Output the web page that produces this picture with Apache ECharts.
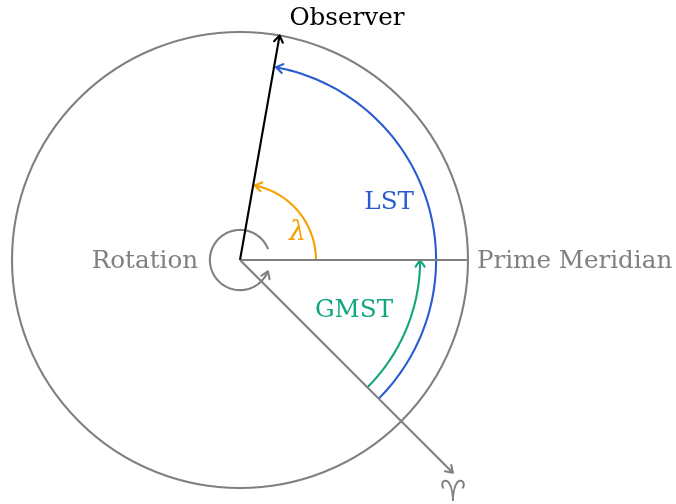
<!DOCTYPE html>
<html><head><meta charset="utf-8">
<script src="https://cdn.jsdelivr.net/npm/echarts@6/dist/echarts.min.js"></script>
<style>html,body{margin:0;padding:0;background:#fff}#c{width:676px;height:504px}</style>
</head><body><div id="c"></div>
<script>
// ---- data (angles in degrees, radii in units of the outer circle radius) ----
const circleRadius = 1;
const rayNames = ['Prime Meridian', 'Observer', 'Vernal Equinox'];
const rayAngles = [0, 80, -45];
const rayLengths = [1, 1, 1.32];
const rayArrows = [false, true, true];
const arcNames = ['LST', 'GMST', 'λ', 'Rotation'];
const arcRadii = [0.86, 0.79, 0.333, 0.132];
const arcStartAngles = [-45, -45, 0, 21];
const arcEndAngles = [79.4, 0, 78.7, 338];
const textLabels = ['Observer', 'Rotation', 'Prime Meridian', 'LST', 'λ', 'GMST', '♈'];

// ---- styles / layout ----
const GRAY = '#808080', BLUE = '#2b5bd3', GREEN = '#12a57f', ORANGE = '#f7a100', BLACK = '#000000';
const rayColors = [GRAY, BLACK, GRAY];
const arcColors = [BLUE, GREEN, ORANGE, GRAY];
const labelStyle = [
  {pos: [0.469, 1.058], color: BLACK, align: 'center', italic: false},
  {pos: [-0.184, -0.009], color: GRAY, align: 'right', italic: false},
  {pos: [1.039, -0.009], color: GRAY, align: 'left', italic: false},
  {pos: [0.654, 0.25], color: BLUE, align: 'center', italic: false},
  {pos: [0.252, 0.117], color: ORANGE, align: 'center', italic: true},
  {pos: [0.5, -0.22], color: GREEN, align: 'center', italic: false},
  {pos: [0.934, -1.025], color: GRAY, align: 'center', italic: false, sym: true}
];
const FONT = '"DejaVu Serif", serif';
const FS = 24.6;
const LW = 2.1;

const rad = d => d * Math.PI / 180;

function arrowHead(tip, dir, color) {
  const L = 8, phi = rad(34);
  const barb = s => {
    const c = Math.cos(s * phi), sn = Math.sin(s * phi);
    const dx = dir[0] * c - dir[1] * sn, dy = dir[0] * sn + dir[1] * c;
    return [tip[0] - L * dx, tip[1] - L * dy];
  };
  return {type: 'polyline', shape: {points: [barb(1), tip, barb(-1)]},
    style: {stroke: color, lineWidth: LW, fill: null, lineCap: 'round', lineJoin: 'round'}};
}

const chart = echarts.init(document.getElementById('c'), null, {renderer: 'canvas'});
const S = 228;
chart.setOption({
  animation: false,
  backgroundColor: '#ffffff',
  grid: {left: 0, right: 0, top: 0, bottom: 0},
  xAxis: {type: 'value', min: -240 / S, max: 436 / S, show: false},
  yAxis: {type: 'value', min: -244 / S, max: 260 / S, show: false},
  series: [
    { // outer circle
      type: 'custom', silent: true,
      data: [[0, 0]],
      renderItem: (p, api) => {
        const c = api.coord([0, 0]);
        const r = api.size([circleRadius, 0])[0];
        return {type: 'circle', shape: {cx: c[0], cy: c[1], r: r},
          style: {stroke: GRAY, lineWidth: LW, fill: null}};
      }
    },
    { // arcs
      type: 'custom', silent: true,
      data: arcNames.map(n => ({name: n, value: [0, 0]})),
      renderItem: (p, api) => {
        const i = p.dataIndex;
        const r = arcRadii[i], a0 = arcStartAngles[i], a1 = arcEndAngles[i];
        const pts = [];
        const n = 120;
        for (let k = 0; k <= n; k++) {
          const a = rad(a0 + (a1 - a0) * k / n);
          pts.push(api.coord([r * Math.cos(a), r * Math.sin(a)]));
        }
        const ae = rad(a1);
        const dir = [-Math.sin(ae), -Math.cos(ae)]; // screen tangent (ccw)
        return {type: 'group', children: [
          {type: 'polyline', shape: {points: pts}, style: {stroke: arcColors[i], lineWidth: LW, fill: null}},
          arrowHead(pts[pts.length - 1], dir, arcColors[i])
        ]};
      }
    },
    { // rays
      type: 'custom', silent: true,
      data: rayNames.map(n => ({name: n, value: [0, 0]})),
      renderItem: (p, api) => {
        const i = p.dataIndex;
        const a = rad(rayAngles[i]);
        const p0 = api.coord([0, 0]);
        const p1 = api.coord([rayLengths[i] * Math.cos(a), rayLengths[i] * Math.sin(a)]);
        const ch = [{type: 'line', shape: {x1: p0[0], y1: p0[1], x2: p1[0], y2: p1[1]},
          style: {stroke: rayColors[i], lineWidth: LW}}];
        if (rayArrows[i]) {
          const len = Math.hypot(p1[0] - p0[0], p1[1] - p0[1]);
          ch.push(arrowHead(p1, [(p1[0] - p0[0]) / len, (p1[1] - p0[1]) / len], rayColors[i]));
        }
        return {type: 'group', children: ch};
      }
    },
    { // text labels
      type: 'custom', silent: true,
      data: textLabels.map(t => ({name: t, value: [0, 0]})),
      renderItem: (p, api) => {
        const i = p.dataIndex, L = labelStyle[i];
        const c = api.coord(L.pos);
        return {type: 'text', x: c[0], y: c[1], style: {
          text: textLabels[i], fill: L.color, align: L.align, verticalAlign: 'middle',
          fontFamily: L.sym ? '"DejaVu Sans", sans-serif' : FONT,
          fontSize: L.sym ? 29 : (L.italic ? 27 : FS), fontStyle: L.italic ? 'italic' : 'normal'
        }};
      }
    }
  ]
});
</script></body></html>
